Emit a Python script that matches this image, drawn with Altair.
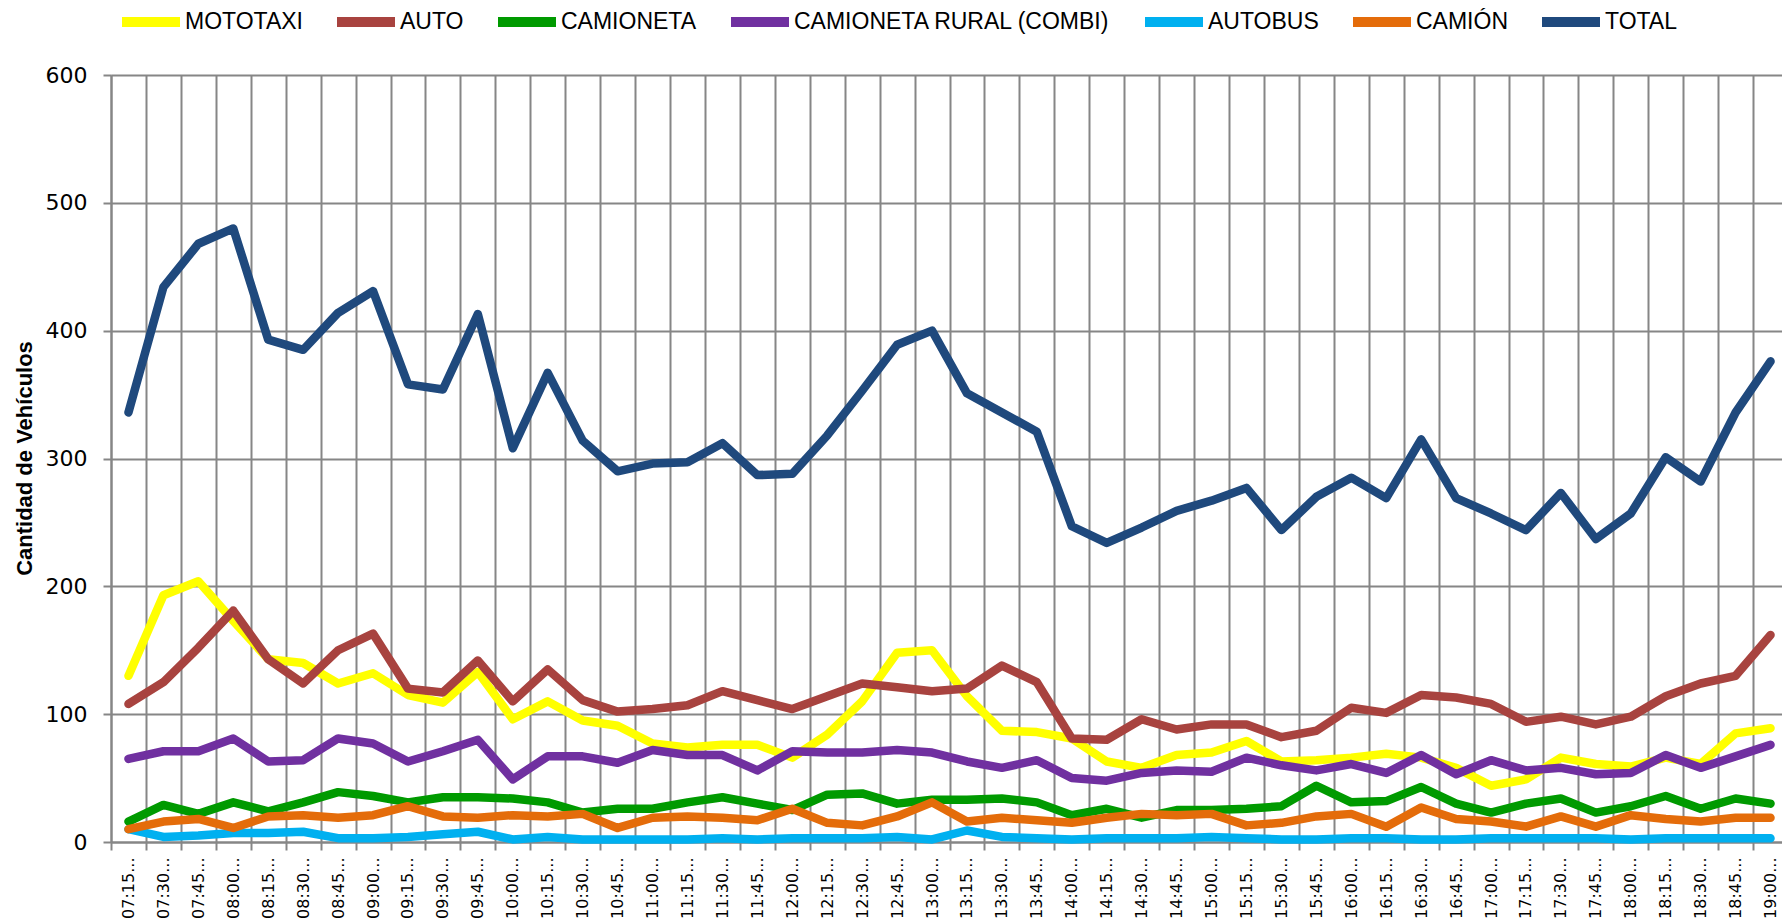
import altair as alt
import pandas as pd

horas = ["07:15", "07:30", "07:45", "08:00", "08:15", "08:30", "08:45", "09:00",
         "09:15", "09:30", "09:45", "10:00", "10:15", "10:30", "10:45", "11:00",
         "11:15", "11:30", "11:45", "12:00", "12:15", "12:30", "12:45", "13:00",
         "13:15", "13:30", "13:45", "14:00", "14:15", "14:30", "14:45", "15:00",
         "15:15", "15:30", "15:45", "16:00", "16:15", "16:30", "16:45", "17:00",
         "17:15", "17:30", "17:45", "18:00", "18:15", "18:30", "18:45", "19:00"]

series = ["MOTOTAXI", "AUTO", "CAMIONETA", "CAMIONETA RURAL (COMBI)",
          "AUTOBUS", "CAMIÓN", "TOTAL"]
colores = ["#FFFF00", "#A8433F", "#009A00", "#7030A0", "#00B0F0", "#E46C0A", "#1F497D"]

mototaxi = [130, 193, 204, 173, 143, 140, 124, 132, 115, 109, 133,
            96, 110, 95, 91, 77, 74, 76, 76, 66, 84, 110, 148,
            150, 114, 87, 86, 81, 63, 58, 68, 70, 79, 63, 64,
            66, 69, 66, 58, 44, 49, 66, 61, 59, 66, 61, 85, 89]
auto = [108, 125, 152, 181, 143, 124, 150, 163, 120, 117, 142,
        110, 135, 111, 102, 104, 107, 118, 111, 104, 114, 124, 121,
        118, 120, 138, 125, 81, 80, 96, 88, 92, 92, 82, 87,
        105, 101, 115, 113, 108, 94, 98, 92, 98, 114, 124, 130, 162]
camioneta = [16, 29, 22, 31, 24, 31, 39, 36, 31, 35, 35,
             34, 31, 23, 26, 26, 31, 35, 30, 25, 37, 38, 30,
             33, 33, 34, 31, 21, 26, 19, 25, 25, 26, 28, 44,
             31, 32, 43, 30, 23, 30, 34, 23, 28, 36, 26, 34, 30]
combi = [65, 71, 71, 81, 63, 64, 81, 77, 63, 71, 80,
         49, 67, 67, 62, 72, 68, 68, 56, 71, 70, 70, 72,
         70, 63, 58, 64, 50, 48, 54, 56, 55, 66, 60, 56,
         61, 54, 68, 53, 64, 56, 58, 53, 54, 68, 58, 67, 76]
autobus = [10, 4, 5, 7, 7, 8, 3, 3, 4, 6, 8,
           2, 4, 2, 2, 2, 2, 3, 2, 3, 3, 3, 4,
           2, 9, 4, 3, 2, 3, 3, 3, 4, 3, 2, 2,
           3, 3, 2, 2, 3, 3, 3, 3, 2, 3, 3, 3, 3]
camion = [10, 16, 18, 11, 20, 21, 19, 21, 28, 20, 19,
          21, 20, 22, 11, 19, 20, 19, 17, 26, 15, 13, 20,
          31, 16, 19, 17, 15, 19, 22, 21, 22, 13, 15, 20,
          22, 12, 27, 18, 16, 12, 20, 12, 21, 18, 16, 19, 19]
total = [336, 434, 468, 480, 393, 385, 414, 431, 358, 354, 413,
         308, 367, 314, 290, 296, 297, 312, 287, 288, 318, 353, 389,
         400, 351, 336, 321, 247, 234, 246, 259, 267, 277, 244, 270,
         285, 269, 315, 269, 257, 244, 273, 237, 257, 301, 282, 336, 376]

valores = [mototaxi, auto, camioneta, combi, autobus, camion, total]

rows = []
for s, vals in zip(series, valores):
    for h, v in zip(horas, vals):
        rows.append({"hora": h, "serie": s, "valor": v})
df = pd.DataFrame(rows)

GRID = "#868686"

chart = alt.Chart(df).mark_line(
    strokeWidth=8.5, strokeCap="round", strokeJoin="round"
).encode(
    x=alt.X(
        "hora:N", sort=horas, bandPosition=0.5,
        scale=alt.Scale(type="band", paddingInner=0, paddingOuter=0, range=[0, 1677]),
        axis=alt.Axis(
            title=None, labelAngle=270, labelAlign="right", labelBaseline="middle",
            labelFont="DejaVu Sans", labelFontSize=16, labelColor="black",
            labelExpr="datum.label == '' ? '' : datum.label + '...'",
            labelPadding=7, labelOverlap=False,
            tickBand="extent", grid=True, gridColor=GRID, gridWidth=2, gridOpacity=1,
            tickColor=GRID, tickSize=8, tickWidth=2,
            domainColor=GRID, domainWidth=2,
        ),
    ),
    y=alt.Y(
        "valor:Q",
        scale=alt.Scale(domain=[0, 600], nice=False),
        axis=alt.Axis(
            title="Cantidad de Vehículos", titleFont="Liberation Sans", titleFontSize=22,
            titleFontWeight="bold", titleColor="black", titleX=-87, titleY=383,
            titleAngle=270, titleAlign="center", titleBaseline="middle",
            values=[0, 100, 200, 300, 400, 500, 600],
            labelFont="DejaVu Sans", labelFontSize=22, labelColor="black", labelPadding=16,
            tickColor=GRID, tickSize=8, tickWidth=2,
            domainColor=GRID, domainWidth=2,
            grid=True, gridColor=GRID, gridWidth=2, gridOpacity=1,
        ),
    ),
    color=alt.Color(
        "serie:N", sort=series,
        scale=alt.Scale(domain=series, range=colores),
        legend=alt.Legend(
            title=None, orient="none", legendX=6, legendY=-87, direction="horizontal",
            columns=7, symbolType="stroke", symbolSize=3364, symbolStrokeWidth=10,
            symbolOpacity=1, labelFont="Liberation Sans", labelFontSize=23,
            labelColor="black", labelLimit=1000, labelOffset=0, columnPadding=14,
            padding=0,
        ),
    ),
).properties(
    width=1671, height=767,
    autosize=alt.AutoSizeParams(type="none"),
    padding={"left": 111, "top": 75, "right": 0, "bottom": 78},
).configure_view(
    fill="#E6E6E6", strokeWidth=0
).configure(background="white")

chart.save("out.html", embed_options={"renderer": "svg", "actions": False})
